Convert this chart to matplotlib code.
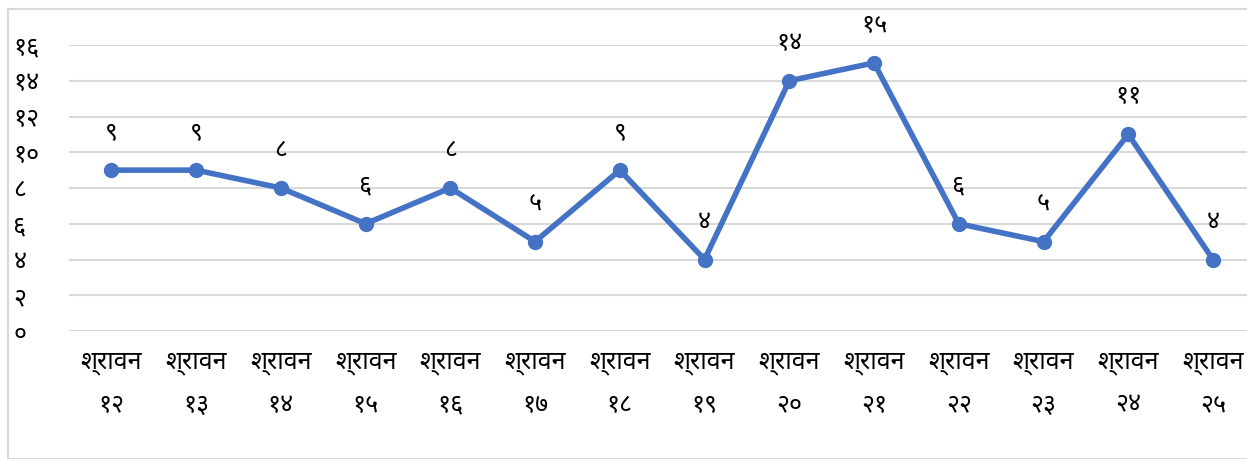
import matplotlib
matplotlib.use("Agg")
import matplotlib.pyplot as plt
from matplotlib import font_manager

# data
days = ['१२', '१३', '१४', '१५', '१६', '१७', '१८', '१९', '२०', '२१', '२२', '२३', '२४', '२५']
labels = ['श्रावन\n' + d for d in days]
values = [9, 9, 8, 6, 8, 5, 9, 4, 14, 15, 6, 5, 11, 4]
yticks = [0, 2, 4, 6, 8, 10, 12, 14, 16]

deva_digits = '०१२३४५६७८९'


def to_deva(n):
    return ''.join(deva_digits[int(c)] for c in str(n))


# pick a proper Devanagari font (avoid the bitmap-like Unifont)
installed = {f.name for f in font_manager.fontManager.ttflist}
wanted = ['Noto Sans Devanagari', 'Hind', 'Mukta', 'Poppins', 'Anek Devanagari',
          'FreeSans']
families = [w for w in wanted if w in installed][:1]
plt.rcParams['font.family'] = families + ['DejaVu Sans']

fig = plt.figure(figsize=(12.47, 4.59), dpi=100)
ax = fig.add_axes([69 / 1247, 1 - 331 / 459, 1 - 69 / 1247, (331 - 45) / 459])

x = list(range(len(values)))
color = '#4472C4'
ax.plot(x, values, color=color, lw=4, marker='o', ms=10, zorder=3,
        solid_joinstyle='round')
for xi, v in zip(x, values):
    ax.annotate(to_deva(v), (xi, v), xytext=(0, 18), textcoords='offset points',
                ha='center', va='bottom', fontsize=18, color='#000000')

ax.set_ylim(0, 16)
ax.set_xlim(-0.5, 13 + (1247 - 1213) / 84.77)
ax.set_yticks(yticks)
ax.set_yticklabels([to_deva(t) for t in yticks], fontsize=18)
ax.set_xticks(x)
ax.set_xticklabels(labels, fontsize=18, linespacing=1.9)
ax.tick_params(length=0, pad=14)
ax.tick_params(axis='y', pad=40)
for lbl in ax.get_yticklabels():
    lbl.set_ha('left')
ax.grid(axis='y', color='#D9D9D9', lw=1.5)
ax.set_axisbelow(True)
for s in ax.spines.values():
    s.set_visible(False)

# outer chart frame
fig.patches.append(plt.Rectangle((8 / 1247, 0), 1, 1 - 9 / 459, transform=fig.transFigure,
                                 fill=False, ec='#D9D9D9', lw=1.5))

fig.savefig('out.png', dpi=100)
